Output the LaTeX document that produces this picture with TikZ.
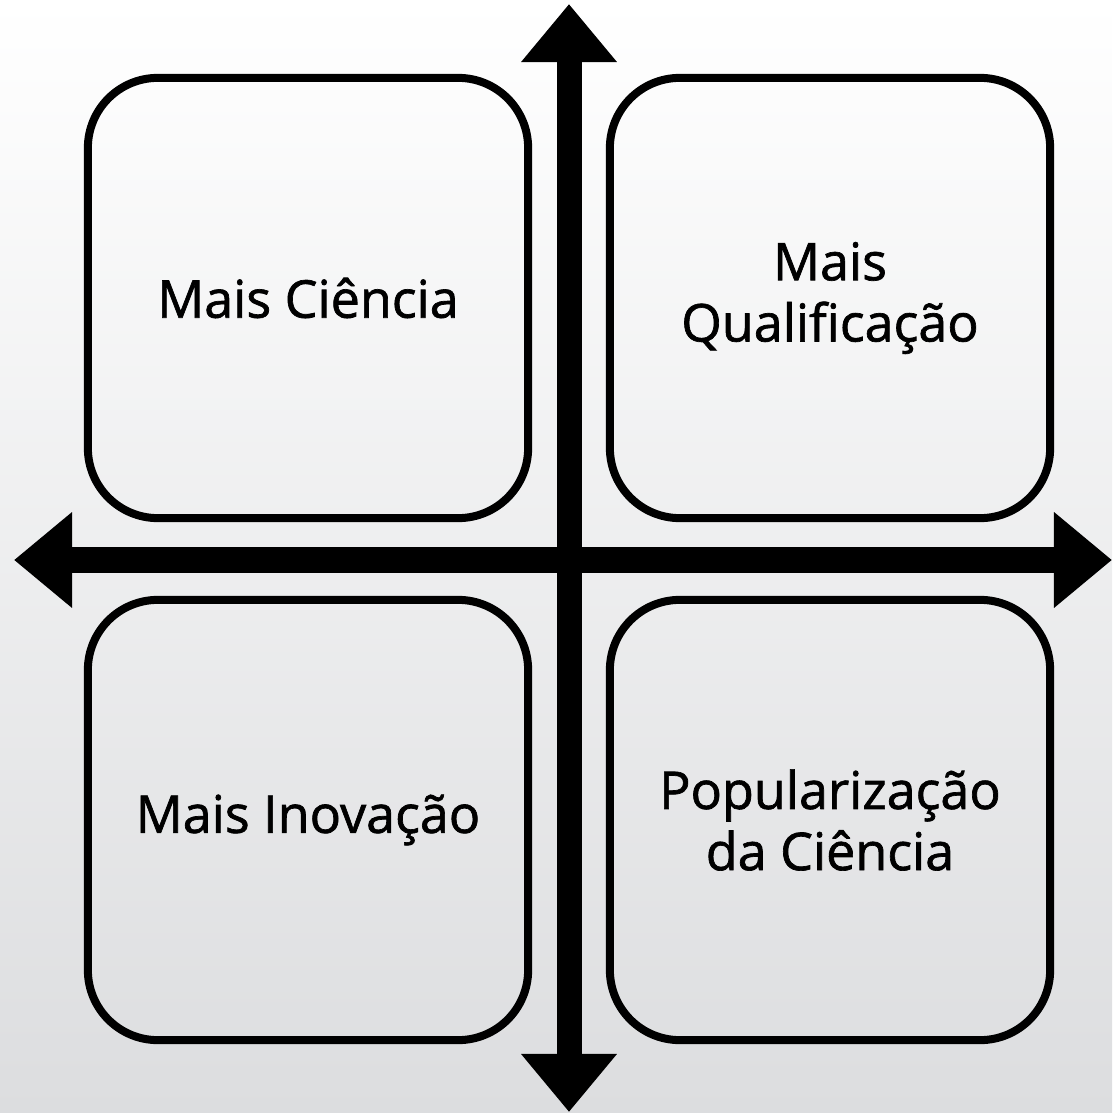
\documentclass[tikz,border=0pt]{standalone}
\usepackage{fontspec}
\setmainfont{Open Sans}[BoldFont=*, BoldFeatures={FakeBold=1.3}]
\usetikzlibrary{arrows.meta}

\definecolor{fundo}{RGB}{220,221,223}
\tikzset{
	quadro/.style={draw, line width=0.08cm, rounded corners=0.7cm, minimum width=4.4cm, minimum height=4.4cm, align=center, font=\fontsize{14.8}{17.4}\selectfont\bfseries},
	eixo/.style={line width=0.25cm, {Triangle[length=0.58cm, width=0.92cm]}-{Triangle[length=0.58cm, width=0.92cm]}}
}

\begin{document}
\begin{tikzpicture}[x=0.01cm, y=-0.01cm]
		\shade [top color=white, middle color=gray!8, bottom color=fundo] (0, 0) rectangle (1112, 1113); % Fundo
		\useasboundingbox (0, 0) rectangle (1112, 1113);
		
		\node [quadro] (ciencia) at (308, 298) {Mais Ciência};
		\node [quadro] (qualificacao) at (830, 298) {Mais\\Qualificação};
		\node [quadro] (inovacao) at (308, 820) {Mais Inovação};
		\node [quadro] (popularizacao) at (830, 820) {Popularização\\da Ciência};
		
		\coordinate (topo) at (569, 4); % Eixos
		\coordinate (base) at (569, 1112);
		\coordinate (esq) at (14, 560);
		\coordinate (dir) at (1112, 560);
		\draw [eixo] (topo) -- (base);
		\draw [eixo] (esq) -- (dir);
	\end{tikzpicture}
\end{document}
